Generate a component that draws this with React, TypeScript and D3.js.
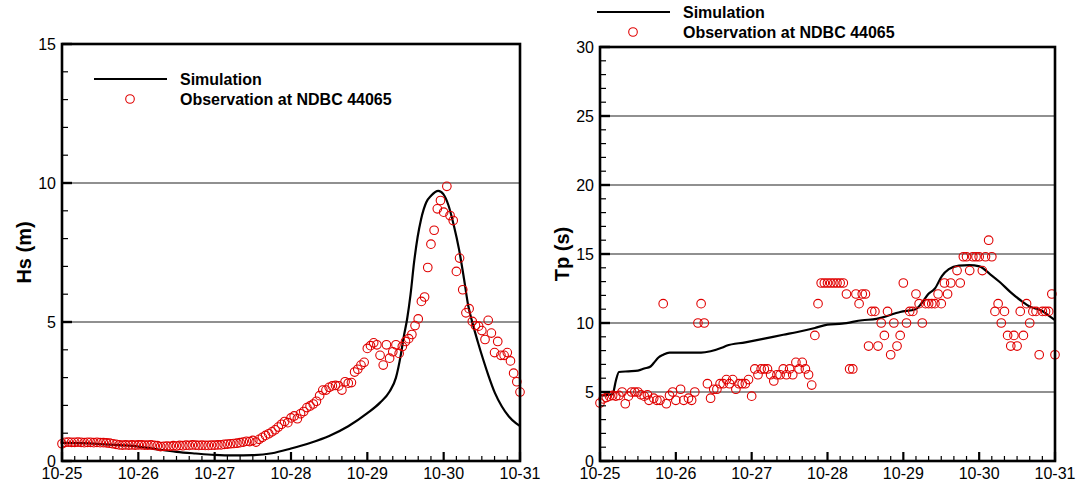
import React from "react";
import * as d3 from "d3";

// ---------- DATA ----------
const START = Date.UTC(2012, 9, 25);
const HOUR = 3600e3;
const dayLabels = ["10-25", "10-26", "10-27", "10-28", "10-29", "10-30", "10-31"];
const hsTickLabels = ["0", "5", "10", "15"];
const tpTickLabels = ["0", "5", "10", "15", "20", "25", "30"];
const legendLabels = ["Simulation", "Observation at NDBC 44065"];

// Hs observation, hourly from 10-25 00:00
const hsObs = [
  0.62, 0.67, 0.68, 0.67, 0.67, 0.68, 0.67, 0.66, 0.67, 0.67, 0.66, 0.67, 0.66, 0.66, 0.65, 0.64, 0.62, 0.6, 0.58, 0.57, 0.58, 0.57, 0.58, 0.57,
  0.58, 0.58, 0.57, 0.57, 0.58, 0.56, 0.55, 0.52, 0.53, 0.54, 0.53, 0.55, 0.54, 0.56, 0.55, 0.57, 0.56, 0.58, 0.57, 0.56, 0.57, 0.56, 0.56, 0.57,
  0.57, 0.58, 0.58, 0.6, 0.61, 0.62, 0.63, 0.64, 0.66, 0.68, 0.71, 0.7, 0.74, 0.68, 0.78, 0.85, 0.92, 0.98, 1.05, 1.12, 1.22, 1.32, 1.42, 1.38,
  1.55, 1.62, 1.52, 1.7, 1.78, 1.92, 1.98, 2.05, 2.15, 2.35, 2.55, 2.55, 2.65, 2.7, 2.72, 2.7, 2.55, 2.85, 2.8, 2.82, 3.2, 3.3, 3.45, 3.55,
  4.05, 4.15, 4.25, 4.18, 3.8, 3.45, 4.18, 3.7, 3.93, 4.18, 3.87, 4.12, 4.3, 4.4, 4.55, 4.87, 5.11, 5.74, 5.9, 6.96, 7.8, 8.3, 9.07, 9.37,
  8.95, 9.88, 8.83, 8.65, 6.82, 7.3, 6.16, 5.33, 5.48, 5.02, 4.87, 4.85, 4.69, 4.37, 5.06, 4.6, 3.9, 4.3, 3.8, 3.8, 3.9, 3.6, 3.16, 2.85, 2.48,
];

// Hs simulation [hour, value]
const hsSim: [number, number][] = [
  [0, 0.65], [6, 0.64], [12, 0.61], [18, 0.57], [24, 0.52], [30, 0.42], [36, 0.33], [42, 0.27], [48, 0.22], [54, 0.2],
  [60, 0.21], [66, 0.28], [72, 0.45], [78, 0.65], [84, 0.9], [90, 1.25], [96, 1.72], [100, 2.1], [103, 2.5], [105, 3.0],
  [106.5, 3.8], [107.5, 4.5], [108.5, 5.1], [109.6, 6.0], [110.7, 7.15], [111.8, 8.05], [112.9, 8.7], [114.5, 9.3],
  [116.1, 9.55], [118.3, 9.72], [119.9, 9.6], [121.5, 9.2], [123.2, 8.47], [124.8, 7.63], [126.4, 6.55], [127.7, 5.6],
  [129.1, 4.95], [130.7, 4.3], [132.4, 3.66], [134, 3.1], [136.1, 2.45], [138.3, 1.96], [140.5, 1.6], [142.7, 1.36], [144, 1.26],
];

// Tp simulation [hour, value]
const tpSim: [number, number][] = [
  [0, 4.75], [4, 4.85], [5, 5.8], [6, 6.45], [9, 6.5], [12, 6.55], [14, 6.7], [16, 6.85], [17, 7.1], [18.5, 7.5],
  [20, 7.7], [22, 7.85], [28, 7.85], [32, 7.85], [35, 7.95], [38.5, 8.2], [40, 8.35], [46, 8.6], [51.6, 8.85], [58, 9.15],
  [62.5, 9.35], [68, 9.64], [72, 9.88], [76.6, 9.95], [83, 10.2], [87.5, 10.3], [89.7, 10.43], [95, 10.8], [99.9, 11.0],
  [102, 11.5], [103.9, 12.1], [106, 12.5], [108.2, 13.4], [110.4, 13.9], [113.6, 14.16], [116.9, 14.2], [120.1, 14.1],
  [123.4, 13.55], [126.6, 12.95], [129.9, 12.24], [133.2, 11.63], [136.4, 11.15], [139.7, 10.9], [141.9, 10.55], [144, 10.2],
];

// Tp observation [hour, value]
const tpObs: [number, number][] = [
  [0, 4.2], [1, 4.5], [2, 4.6], [3, 4.7], [4, 4.75], [5, 4.7], [6, 4.75], [7, 5.0], [8, 4.15], [9, 4.7], [10, 5.0], [11, 5.0],
  [12, 5.0], [13, 4.8], [14, 4.7], [15, 4.8], [15.5, 4.4], [17, 4.55], [18, 4.4], [19, 4.4], [20, 11.4], [21, 4.15], [22, 4.75],
  [23, 5.0], [24, 4.4], [25.5, 5.2], [26.5, 4.4], [28, 4.55], [29, 4.4], [30, 5.0], [31, 10.0], [32, 11.4], [33, 10.0], [34, 5.6],
  [35, 4.55], [36, 5.2], [37, 5.2], [38, 5.6], [39, 5.6], [40, 5.9], [41, 5.6], [42, 5.9], [43, 5.2], [44, 5.6], [45, 5.6],
  [46, 5.6], [47, 5.9], [48, 4.7], [49, 6.67], [50, 6.25], [51, 6.67], [52, 6.67], [53, 6.67], [54, 6.25], [55, 5.8], [56, 6.25],
  [57, 6.25], [58, 6.67], [59, 6.25], [60, 6.67], [61, 6.25], [62, 7.15], [63, 6.67], [64, 7.15], [65, 6.67], [66, 6.25],
  [67, 5.5], [68, 9.1], [69, 11.4], [70, 12.9], [71, 12.9], [72, 12.9], [73, 12.9], [74, 12.9], [75, 12.9], [76, 12.9],
  [77, 12.9], [78, 12.1], [79, 6.67], [80, 6.67], [81, 12.1], [82, 11.4], [83, 12.1], [84, 12.1], [85, 8.33], [86, 10.84],
  [87, 10.84], [88, 8.33], [89, 10.0], [90, 9.1], [91, 10.84], [92, 7.7], [93, 10.0], [94, 8.33], [95, 9.1], [96, 12.9],
  [97, 10.0], [98, 10.84], [99, 10.84], [100, 12.1], [101, 11.4], [102, 10.0], [103, 11.4], [104, 11.4], [105, 11.4],
  [106, 11.4], [107, 12.1], [108, 11.4], [109, 12.9], [110, 12.1], [111, 12.9], [113, 13.8], [114, 12.9], [115, 14.8],
  [116, 14.8], [117, 13.8], [118, 14.8], [119, 14.8], [120, 14.8], [121, 13.8], [122, 14.8], [123, 16.0], [124, 14.8],
  [125, 10.84], [126, 11.4], [127, 10.0], [128, 10.84], [129, 9.1], [130, 8.33], [131, 9.1], [132, 8.33], [133, 10.84],
  [134, 9.1], [135, 11.4], [136, 10.0], [137, 10.84], [138, 10.84], [139, 7.7], [140, 10.84], [141, 10.84], [142, 10.84],
  [143, 12.1], [144, 7.7],
];

// ---------- DRAWING ----------
const FONT = "'Liberation Sans', Arial, Helvetica, sans-serif";
const RED = "#e00000";
const toDate = (h: number) => new Date(START + h * HOUR);

type PanelProps = {
  left: number; right: number; top: number; bottom: number;
  yMax: number; yLabels: string[]; grid: number[]; title: string;
  sim: [number, number][]; obs: [number, number][];
  titleX: number; legendX: number; legendY: number;
};

function Panel(p: PanelProps) {
  const x = d3.scaleUtc().domain([toDate(0), toDate(144)]).range([p.left, p.right]);
  const y = d3.scaleLinear().domain([0, p.yMax]).range([p.bottom, p.top]);
  const line = d3
    .line<[number, number]>()
    .x((d) => x(toDate(d[0])))
    .y((d) => y(d[1]))
    .curve(d3.curveMonotoneX);
  const majorX = d3.utcDay.range(toDate(0), toDate(145));
  const minorX = d3.utcHour.every(4)!.range(toDate(0), toDate(144)).filter((d) => d.getUTCHours() !== 0);
  const majorY = p.yLabels.map((l) => +l);
  const minorY = d3.range(0, p.yMax + 1).filter((v) => v % 5 !== 0);
  return (
    <g>
      {p.grid.map((v) => (
        <line key={"g" + v} x1={p.left} x2={p.right} y1={y(v)} y2={y(v)} stroke="#222" strokeWidth={1.1} />
      ))}
      <path d={line(p.sim) || ""} fill="none" stroke="#000" strokeWidth={2.2} />
      {p.obs.map((d, i) => (
        <circle key={"o" + i} cx={x(toDate(d[0]))} cy={y(d[1])} r={4.3} fill="none" stroke={RED} strokeWidth={1.1} />
      ))}
      {minorY.map((v) => (
        <line key={"my" + v} x1={p.left} x2={p.left + 6} y1={y(v)} y2={y(v)} stroke="#000" strokeWidth={1.2} />
      ))}
      {majorY.map((v) => (
        <line key={"My" + v} x1={p.left} x2={p.left + 10} y1={y(v)} y2={y(v)} stroke="#000" strokeWidth={2.4} />
      ))}
      {minorX.map((d, i) => (
        <line key={"mx" + i} x1={x(d)} x2={x(d)} y1={p.bottom} y2={p.bottom - 5} stroke="#000" strokeWidth={1.2} />
      ))}
      {majorX.map((d, i) => (
        <line key={"Mx" + i} x1={x(d)} x2={x(d)} y1={p.bottom} y2={p.bottom - 9} stroke="#000" strokeWidth={2.2} />
      ))}
      <rect x={p.left} y={p.top} width={p.right - p.left} height={p.bottom - p.top} fill="none" stroke="#000" strokeWidth={2.6} />
      {majorY.map((v, i) => (
        <text key={"ly" + v} x={p.left - 6} y={y(v)} dy="0.35em" textAnchor="end" fontSize={16} fontFamily={FONT} fill="#000">
          {p.yLabels[i]}
        </text>
      ))}
      {majorX.map((d, i) => (
        <text key={"lx" + i} x={x(d)} y={p.bottom + 18} textAnchor="middle" fontSize={16} fontFamily={FONT} fill="#000">
          {dayLabels[i]}
        </text>
      ))}
      <text
        transform={`translate(${p.titleX},${(p.top + p.bottom) / 2}) rotate(-90)`}
        textAnchor="middle" dy="0.35em" fontSize={20} fontWeight="bold" fontFamily={FONT} fill="#000"
      >
        {p.title}
      </text>
      <g>
        <line x1={p.legendX} x2={p.legendX + 73} y1={p.legendY} y2={p.legendY} stroke="#000" strokeWidth={2.2} />
        <circle cx={p.legendX + 36} cy={p.legendY + 20} r={4.3} fill="none" stroke={RED} strokeWidth={1.1} />
        <text x={p.legendX + 86} y={p.legendY} dy="0.35em" fontSize={16} fontWeight="bold" fontFamily={FONT} fill="#000">
          {legendLabels[0]}
        </text>
        <text x={p.legendX + 86} y={p.legendY + 20} dy="0.35em" fontSize={16} fontWeight="bold" fontFamily={FONT} fill="#000">
          {legendLabels[1]}
        </text>
      </g>
    </g>
  );
}

export default function App() {
  const hsPairs: [number, number][] = hsObs.map((v, i) => [i, v]);
  return (
    <svg width={1077} height={484} style={{ position: "absolute", left: 0, top: 0, background: "#fff" }}>
      <rect width={1077} height={484} fill="#fff" />
      <Panel
        left={62} right={520} top={44} bottom={461} yMax={15} yLabels={hsTickLabels} grid={[5, 10]}
        title="Hs (m)" sim={hsSim} obs={hsPairs} titleX={24} legendX={94} legendY={79}
      />
      <Panel
        left={600} right={1055} top={47} bottom={461} yMax={30} yLabels={tpTickLabels} grid={[5, 10, 15, 20, 25]}
        title="Tp (s)" sim={tpSim} obs={tpObs} titleX={562} legendX={597} legendY={12}
      />
    </svg>
  );
}
